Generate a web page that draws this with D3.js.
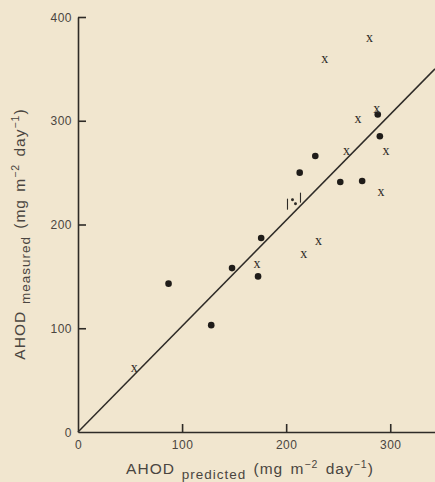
<!DOCTYPE html>
<html>
<head>
<meta charset="utf-8">
<script src="https://cdn.jsdelivr.net/npm/d3@7"></script>
<style>
  body { margin: 0; background: #f1e6cf; }
  svg { display: block; }
  .axis path, .axis line { stroke: #2e2b27; stroke-width: 1.6; }
  .axis text { font-family: "Liberation Sans", Arial, sans-serif; font-size: 12px; fill: #4a4540; letter-spacing: 0.5px; }
  .label { font-family: "Liberation Sans", Arial, sans-serif; font-size: 15.5px; fill: #4a4540; letter-spacing: 1px; word-spacing: 2px; }
</style>
</head>
<body>
<div id="chart"></div>
<script>
// measured vs predicted AHOD
var dotPredicted = [288, 290, 228, 213, 252, 273, 176, 148, 173, 87, 128];
var dotMeasured  = [306, 285, 266, 250, 241, 242, 187, 158, 150, 143, 103];

var crossPredicted = [280, 237, 287, 269, 258, 296, 291, 231, 217, 172, 54];
var crossMeasured  = [380, 360, 312, 302, 271, 271, 232, 184, 172, 162, 62];

var lineX = [0, 343];
var lineY = [0, 350];

var xTicks = [0, 100, 200, 300];
var yTicks = [0, 100, 200, 300, 400];

var width = 435, height = 482;
var margin = {top: 17, right: 0, bottom: 50, left: 78};

var x = d3.scaleLinear()
    .domain([0, 343])
    .range([margin.left, width - margin.right]);

var y = d3.scaleLinear()
    .domain([0, 400])
    .range([height - margin.bottom, margin.top]);

var svg = d3.select("#chart").append("svg")
    .attr("width", width)
    .attr("height", height);

// AXES (ticks point inwards like the original)

var xAxis = d3.axisBottom(x)
    .tickValues(xTicks)
    .tickSizeInner(-8)
    .tickSizeOuter(0)
    .tickPadding(6)
    .tickFormat(d3.format("d"));

var yAxis = d3.axisLeft(y)
    .tickValues(yTicks)
    .tickSizeInner(-8)
    .tickSizeOuter(0)
    .tickPadding(6)
    .tickFormat(d3.format("d"));

var gx = svg.append("g")
    .attr("class", "x axis")
    .attr("transform", "translate(0," + y(0) + ")")
    .call(xAxis);

var gy = svg.append("g")
    .attr("class", "y axis")
    .attr("transform", "translate(" + x(0) + ",0)")
    .call(yAxis);

// no tick mark at the origin
gx.selectAll(".tick").filter(function(d) { return d === 0; }).select("line").remove();
gy.selectAll(".tick").filter(function(d) { return d === 0; }).select("line").remove();
gy.selectAll(".tick text").attr("dy", "0.35em");
gx.selectAll(".tick text").attr("dy", "0.9em");

// 1:1 LINE

var line = d3.line()
    .x(function(d) { return x(d[0]); })
    .y(function(d) { return y(d[1]); });

svg.append("path")
    .datum(d3.zip(lineX, lineY))
    .attr("d", line)
    .attr("fill", "none")
    .attr("stroke", "#2e2b27")
    .attr("stroke-width", 1.5);

// small bracket note drawn above the line
var noteAt = [208, 222];
var note = svg.append("g")
    .attr("transform", "translate(" + x(noteAt[0]) + "," + y(noteAt[1]) + ")")
    .attr("stroke", "#2e2b27")
    .attr("stroke-width", 1.1);
note.append("line").attr("x1", -7).attr("y1", -3).attr("x2", -7).attr("y2", 8);
note.append("line").attr("x1", 6).attr("y1", -9).attr("x2", 6).attr("y2", 1);
note.append("circle").attr("cx", -2).attr("cy", -2).attr("r", 0.9).attr("fill", "#2e2b27");
note.append("circle").attr("cx", 1).attr("cy", 2).attr("r", 0.9).attr("fill", "#2e2b27");

// DOTS

svg.selectAll(".dot")
    .data(d3.zip(dotPredicted, dotMeasured))
    .enter().append("circle")
    .attr("class", "dot")
    .attr("cx", function(d) { return x(d[0]); })
    .attr("cy", function(d) { return y(d[1]); })
    .attr("r", 3.3)
    .attr("fill", "#1f1c19");

// CROSSES

svg.selectAll(".cross")
    .data(d3.zip(crossPredicted, crossMeasured))
    .enter().append("text")
    .attr("class", "cross")
    .attr("x", function(d) { return x(d[0]); })
    .attr("y", function(d) { return y(d[1]); })
    .attr("dy", "0.3em")
    .attr("text-anchor", "middle")
    .style("font-family", "Liberation Serif, serif")
    .style("font-size", "14px")
    .style("fill", "#2e2b27")
    .text("x");

// AXIS LABELS

function writeLabel(t, sub) {
    t.append("tspan").text("AHOD");
    t.append("tspan").attr("dy", 5).style("font-size", "13.5px").text(" " + sub);
    t.append("tspan").attr("dy", -5).text("  (mg m");
    t.append("tspan").attr("dy", -6).style("font-size", "10.5px").text("\u22122");
    t.append("tspan").attr("dy", 6).text(" day");
    t.append("tspan").attr("dy", -6).style("font-size", "10.5px").text("\u22121");
    t.append("tspan").attr("dy", 6).text(")");
}

var xl = svg.append("text")
    .attr("class", "label")
    .attr("x", 250)
    .attr("y", 474)
    .attr("text-anchor", "middle");
writeLabel(xl, "predicted");

var yl = svg.append("text")
    .attr("class", "label")
    .attr("transform", "translate(25,234) rotate(-90)")
    .attr("text-anchor", "middle");
writeLabel(yl, "measured");
</script>
</body>
</html>
